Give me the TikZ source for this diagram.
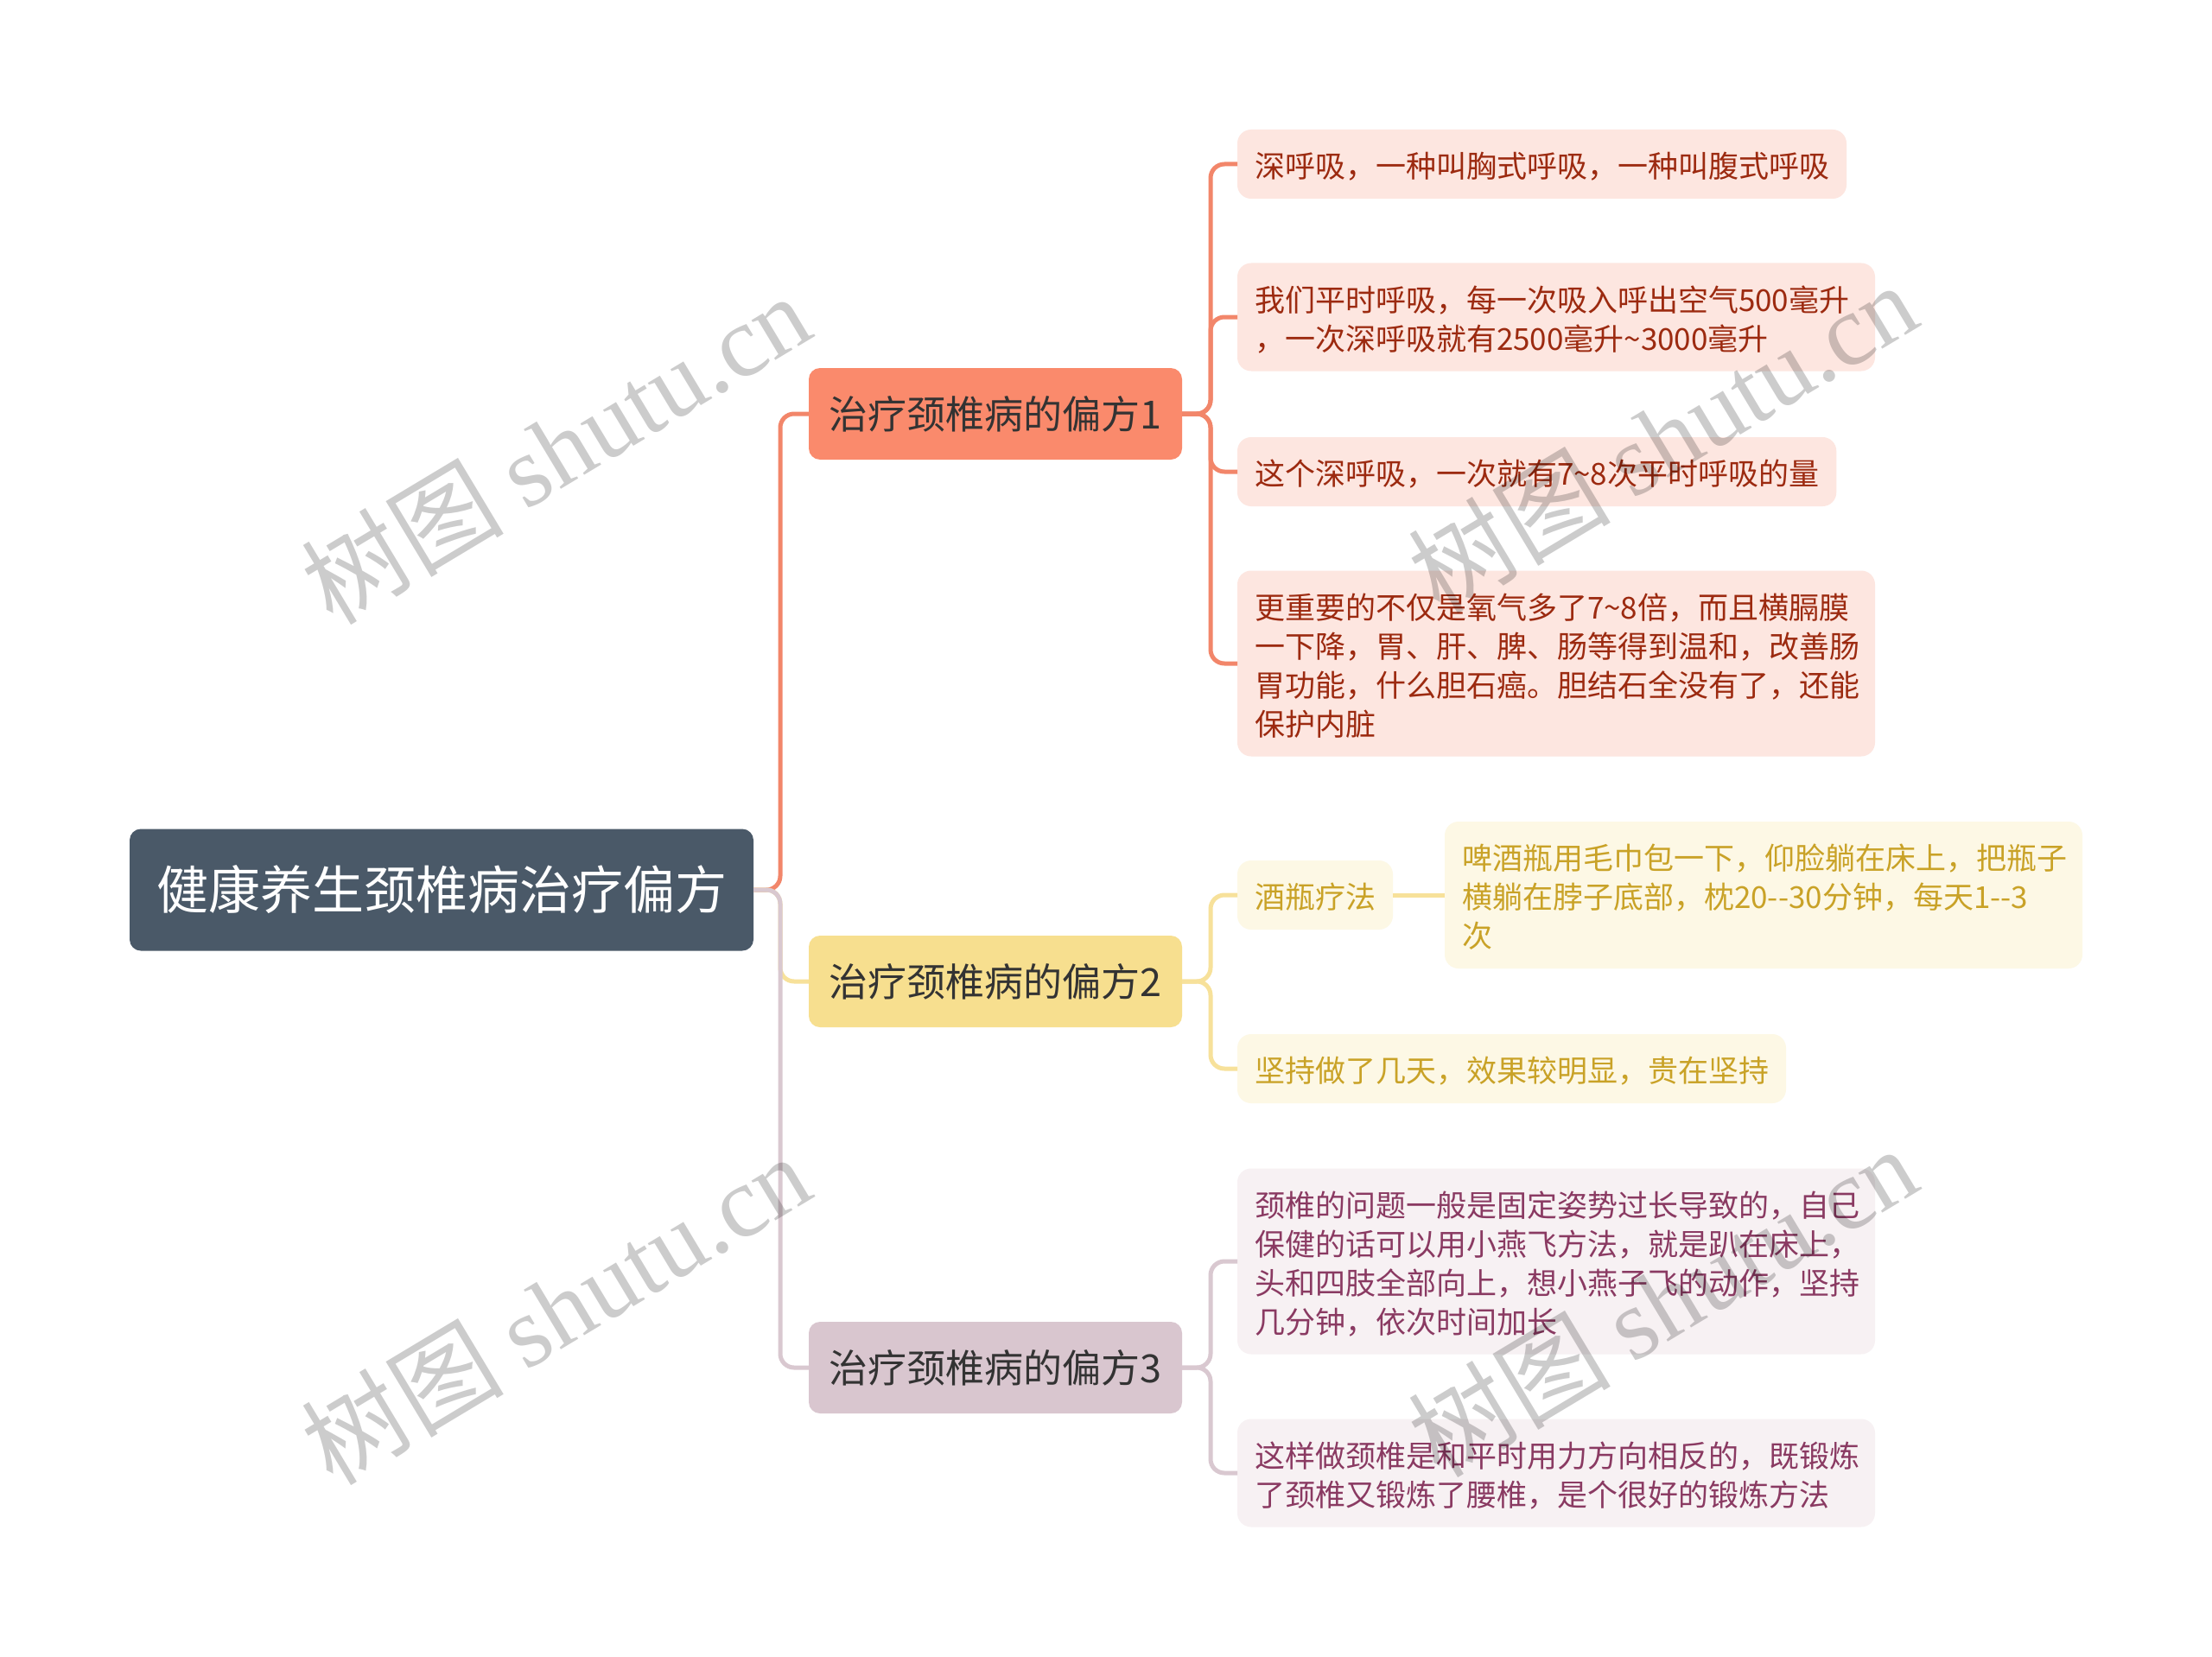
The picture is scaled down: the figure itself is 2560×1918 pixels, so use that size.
\documentclass[tikz,border=0pt]{standalone}
\usepackage{fontspec}
\setmainfont{Noto Sans CJK SC}
\newfontfamily\wmfont{Liberation Serif}
\definecolor{rootfill}{HTML}{4A5968}
\definecolor{redfill}{HTML}{FA8A6C}
\definecolor{redline}{HTML}{F2866A}
\definecolor{redleaf}{HTML}{FDE6E0}
\definecolor{redtext}{HTML}{9C2A10}
\definecolor{yelfill}{HTML}{F7DF8F}
\definecolor{yelline}{HTML}{F7E19A}
\definecolor{yelleaf}{HTML}{FDF8E5}
\definecolor{yeltext}{HTML}{C9A227}
\definecolor{purfill}{HTML}{D9C6CF}
\definecolor{purline}{HTML}{D9C8D0}
\definecolor{purleaf}{HTML}{F7F1F3}
\definecolor{purtext}{HTML}{8A3A62}
\newcommand\wave{\textasciitilde}
\newcommand\leaftop{\rule{0pt}{38pt}}
\newcommand\leafbottom{\rule[-7pt]{0pt}{7pt}}
\begin{document}
\begin{tikzpicture}[x=1pt,y=-1pt]
	\tikzstyle{every node}=[inner sep=0pt,outer sep=0pt]
	\tikzstyle{root}=[fill=rootfill,text=white,rounded corners=13pt,anchor=west,minimum width=722pt,minimum height=141pt,font=\fontsize{60}{72}\selectfont]
	\tikzstyle{branch}=[rounded corners=13pt,anchor=west,minimum width=432pt,minimum height=106pt,text=black!80,font=\fontsize{45}{54}\selectfont]
	\tikzstyle{leaf}=[rounded corners=16pt,anchor=west,inner xsep=20pt,inner ysep=17.5pt,align=left,font=\fontsize{35}{45}\selectfont,execute at begin node=\leaftop,execute at end node=\leafbottom]
	\tikzstyle{wide}=[text width=698pt]
	\tikzstyle{link}=[line width=5pt,rounded corners=16pt]
	\tikzstyle{wmark}=[text=black,text opacity=0.2,font=\fontsize{117}{117}\selectfont,rotate=31]
	\useasboundingbox[fill=white] (0,0) rectangle (2560,1918);
	\node[root] (root) at (150,1030) {健康养生颈椎病治疗偏方};
	\node[branch,fill=redfill] (b1) at (936,479) {治疗颈椎病的偏方1};
	\node[branch,fill=yelfill] (b2) at (936,1136) {治疗颈椎病的偏方2};
	\node[branch,fill=purfill] (b3) at (936,1583) {治疗颈椎病的偏方3};
	\node[leaf,fill=redleaf,text=redtext] (l1) at (1432,190) {深呼吸，一种叫胸式呼吸，一种叫腹式呼吸};
	\node[leaf,wide,fill=redleaf,text=redtext] (l2) at (1432,367) {我们平时呼吸，每一次吸入呼出空气500毫升\\，一次深呼吸就有2500毫升\wave3000毫升};
	\node[leaf,fill=redleaf,text=redtext] (l3) at (1432,546) {这个深呼吸，一次就有7\wave8次平时呼吸的量};
	\node[leaf,wide,fill=redleaf,text=redtext] (l4) at (1432,768) {更重要的不仅是氧气多了7\wave8倍，而且横膈膜\\一下降，胃、肝、脾、肠等得到温和，改善肠\\胃功能，什么胆石癌。胆结石全没有了，还能\\保护内脏};
	\node[leaf,fill=yelleaf,text=yeltext] (jp) at (1432,1036) {酒瓶疗法};
	\node[leaf,wide,fill=yelleaf,text=yeltext] (jpc) at (1672,1036) {啤酒瓶用毛巾包一下，仰脸躺在床上，把瓶子\\横躺在脖子底部，枕20-{}-30分钟，每天1-{}-3\\次};
	\node[leaf,fill=yelleaf,text=yeltext] (jc) at (1432,1237) {坚持做了几天，效果较明显，贵在坚持};
	\node[leaf,wide,fill=purleaf,text=purtext] (p1) at (1432,1460) {颈椎的问题一般是固定姿势过长导致的，自己\\保健的话可以用小燕飞方法，就是趴在床上，\\头和四肢全部向上，想小燕子飞的动作，坚持\\几分钟，依次时间加长};
	\node[leaf,wide,fill=purleaf,text=purtext] (p2) at (1432,1705) {这样做颈椎是和平时用力方向相反的，既锻炼\\了颈椎又锻炼了腰椎，是个很好的锻炼方法};
	\draw[link,redline] (root.east) -- ++(31,0) |- (b1.west);
	\draw[link,yelline] (root.east) -- ++(31,0) |- (b2.west);
	\draw[link,purline] (root.east) -- ++(31,0) |- (b3.west);
	\foreach \leafname in {l1,l2,l3,l4}
		\draw[link,redline] (b1.east) -- ++(33,0) |- (\leafname.west);
	\foreach \leafname in {jp,jc}
		\draw[link,yelline] (b2.east) -- ++(33,0) |- (\leafname.west);
	\draw[link,yelline] (jp.east) -- (jpc.west);
	\foreach \leafname in {p1,p2}
		\draw[link,purline] (b3.east) -- ++(33,0) |- (\leafname.west);
	\node[wmark] (wm1) at (643,519) {树图 {\wmfont shutu.cn}};
	\node[wmark] (wm2) at (1924,506) {树图 {\wmfont shutu.cn}};
	\node[wmark] (wm3) at (643,1515) {树图 {\wmfont shutu.cn}};
	\node[wmark] (wm4) at (1924,1506) {树图 {\wmfont shutu.cn}};
\end{tikzpicture}
\end{document}
